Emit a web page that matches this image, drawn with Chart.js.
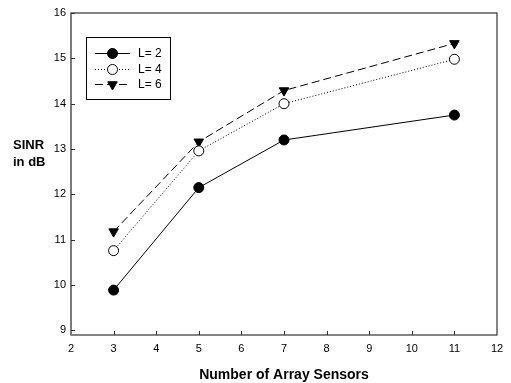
<!DOCTYPE html>
<html><head><meta charset="utf-8">
<script src="https://cdn.jsdelivr.net/npm/chart.js@4/dist/chart.umd.min.js"></script>
<style>html,body{margin:0;padding:0;background:#fff;}#wrap{width:511px;height:383px;}</style>
</head><body><div id="wrap"><canvas id="c" width="511" height="383"></canvas></div>
<script>
const sensors = [3, 5, 7, 11];
const L2 = [9.89, 12.15, 13.2, 13.75];
const L4 = [10.76, 12.96, 14.0, 14.98];
const L6 = [11.18, 13.16, 14.29, 15.33];
const xTicks = [2,3,4,5,6,7,8,9,10,11,12];
const yTicks = [9,10,11,12,13,14,15,16];
const labels = ['L= 2','L= 4','L= 6'];

const pts = a => sensors.map((x,i)=>({x:x,y:a[i]}));
const FONT = '"Liberation Sans", Arial, sans-serif';

const frame = {
  id:'frame',
  afterDraw(chart){
    const {ctx, chartArea:a, scales:{x,y}} = chart;
    ctx.save();
    ctx.strokeStyle='#333'; ctx.lineWidth=1.2;
    ctx.strokeRect(a.left, a.top, a.right-a.left, a.bottom-a.top);
    ctx.strokeStyle='#7a7a7a'; ctx.lineWidth=2;
    ctx.beginPath(); ctx.moveTo(a.left, a.top); ctx.lineTo(a.left, a.bottom); ctx.stroke();
    ctx.lineWidth=1; ctx.strokeStyle='#333';
    xTicks.forEach(v=>{ if(v===2||v===12) return; const px=Math.round(x.getPixelForValue(v))+0.5; ctx.beginPath(); ctx.moveTo(px,a.bottom); ctx.lineTo(px,a.bottom-4); ctx.stroke();});
    yTicks.forEach(v=>{ const py=Math.round(y.getPixelForValue(v))+0.5; ctx.beginPath(); ctx.moveTo(a.left,py); ctx.lineTo(a.left+4,py); ctx.stroke();});
    // axis titles
    ctx.fillStyle='#000';
    ctx.font='bold 14px '+FONT;
    ctx.textAlign='center'; ctx.textBaseline='middle';
    ctx.fillText('Number of Array Sensors', (a.left+a.right)/2, 375);
    ctx.font='bold 13px '+FONT;
    ctx.textAlign='left';
    ctx.fillText('SINR', 13, 145);
    ctx.fillText('in dB', 13, 162);
    // legend
    ctx.strokeStyle='#000'; ctx.lineWidth=1;
    ctx.strokeRect(86.5, 37.5, 84, 62);
    const rows=[53,69,84];
    chart.data.datasets.forEach((ds,i)=>{
      const yy=rows[i];
      ctx.save();
      ctx.strokeStyle='#000'; ctx.lineWidth=1;
      ctx.setLineDash(ds.borderDash||[]);
      ctx.beginPath(); ctx.moveTo(95,yy+0.5); ctx.lineTo(130,yy+0.5); ctx.stroke();
      ctx.restore();
      ctx.save();
      ctx.fillStyle=ds.pointBackgroundColor; ctx.strokeStyle='#000'; ctx.lineWidth=1;
      Chart.helpers.drawPoint(ctx,{pointStyle:ds.pointStyle,rotation:ds.pointRotation||0,radius:ds.pointRadius,borderWidth:1},112.5,yy+0.5);
      ctx.restore();
      ctx.save(); ctx.fillStyle='#000'; ctx.font='12px '+FONT; ctx.textAlign='left'; ctx.textBaseline='middle';
      ctx.fillText(ds.label,138,yy+1); ctx.restore();
    });
    ctx.restore();
  }
};

const common = {borderColor:'#000', borderWidth:1, pointBorderColor:'#000', pointBorderWidth:1, showLine:true, tension:0};
new Chart(document.getElementById('c'), {
  type:'scatter',
  data:{datasets:[
    Object.assign({label:labels[0], data:pts(L2), pointStyle:'circle', pointRadius:5, pointBackgroundColor:'#000'}, common),
    Object.assign({label:labels[1], data:pts(L4), pointStyle:'circle', pointRadius:5, pointBackgroundColor:'#fff', borderDash:[1,2]}, common),
    Object.assign({label:labels[2], data:pts(L6), pointStyle:'triangle', pointRotation:180, pointRadius:5.5, pointBackgroundColor:'#000', borderDash:[8,4]}, common)
  ]},
  options:{
    responsive:false, animation:false, devicePixelRatio:1,
    layout:{padding:{top:13,right:14,left:0,bottom:0}},
    plugins:{legend:{display:false}, tooltip:{enabled:false}},
    scales:{
      x:{type:'linear', min:2, max:12, grid:{display:false, drawTicks:false}, border:{display:false},
        afterBuildTicks:s=>{s.ticks=xTicks.map(v=>({value:v}));},
        afterFit:s=>{s.height=48;},
        ticks:{color:'#000', font:{family:FONT,size:11}, padding:7, maxRotation:0, autoSkip:false}},
      y:{type:'linear', min:8.9, max:16, grid:{display:false, drawTicks:false}, border:{display:false},
        afterBuildTicks:s=>{s.ticks=yTicks.map(v=>({value:v}));},
        afterFit:s=>{s.width=71;},
        ticks:{color:'#000', font:{family:FONT,size:11}, padding:5, autoSkip:false}}
    }
  },
  plugins:[frame]
});
</script></body></html>
